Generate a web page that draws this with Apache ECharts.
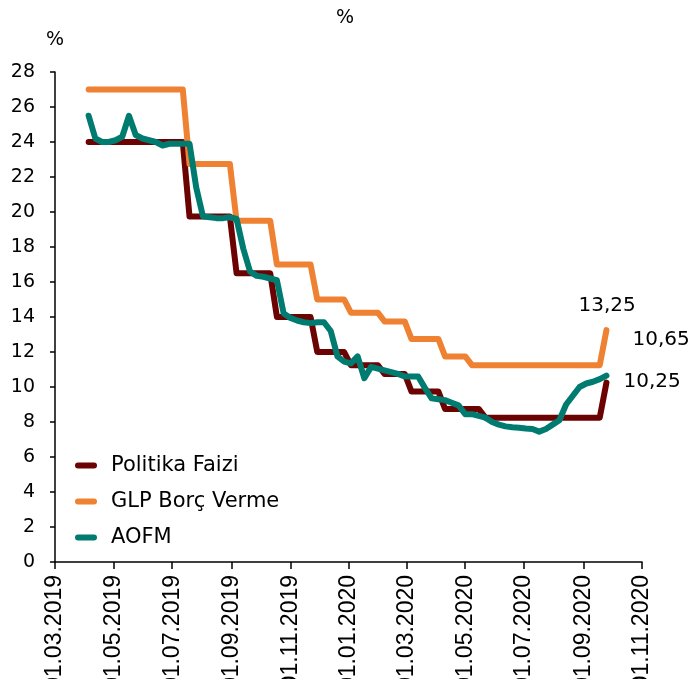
<!DOCTYPE html>
<html>
<head>
<meta charset="utf-8">
<script src="https://cdn.jsdelivr.net/npm/echarts@6/dist/echarts.min.js"></script>
<style>
  html, body { margin: 0; padding: 0; background: #fff; }
  #chart { width: 690px; height: 679px; }
</style>
</head>
<body>
<div id="chart"></div>
<script>
// haftalık gözlemler: 05.04.2019 - 25.09.2020
var startDate = [2019, 3, 5];
var weekCount = 78;

var politikaFaizi = [
  24, 24, 24, 24, 24, 24, 24, 24, 24, 24, 24, 24, 24, 24, 24,
  19.75, 19.75, 19.75, 19.75, 19.75, 19.75, 19.75,
  16.5, 16.5, 16.5, 16.5, 16.5, 16.5,
  14, 14, 14, 14, 14, 14,
  12, 12, 12, 12, 12,
  11.25, 11.25, 11.25, 11.25, 11.25,
  10.75, 10.75, 10.75, 10.75,
  9.75, 9.75, 9.75, 9.75, 9.75,
  8.75, 8.75, 8.75, 8.75, 8.75, 8.75,
  8.25, 8.25, 8.25, 8.25, 8.25, 8.25, 8.25, 8.25, 8.25,
  8.25, 8.25, 8.25, 8.25, 8.25, 8.25, 8.25, 8.25, 8.25,
  10.25
];

var glpBorcVerme = [
  27, 27, 27, 27, 27, 27, 27, 27, 27, 27, 27, 27, 27, 27, 27,
  22.75, 22.75, 22.75, 22.75, 22.75, 22.75, 22.75,
  19.5, 19.5, 19.5, 19.5, 19.5, 19.5,
  17, 17, 17, 17, 17, 17,
  15, 15, 15, 15, 15,
  14.25, 14.25, 14.25, 14.25, 14.25,
  13.75, 13.75, 13.75, 13.75,
  12.75, 12.75, 12.75, 12.75, 12.75,
  11.75, 11.75, 11.75, 11.75,
  11.25, 11.25, 11.25, 11.25, 11.25, 11.25, 11.25, 11.25, 11.25, 11.25,
  11.25, 11.25, 11.25, 11.25, 11.25, 11.25, 11.25, 11.25, 11.25, 11.25,
  13.25
];

var aofm = [
  25.5, 24.2, 24.0, 24.0, 24.1, 24.3, 25.5, 24.4, 24.2, 24.1,
  24.0, 23.8, 23.9, 23.9, 23.9, 23.9, 21.4, 19.75, 19.7, 19.65,
  19.65, 19.7, 19.6, 17.9, 16.6, 16.35, 16.3, 16.2, 16.1, 14.2,
  13.95, 13.8, 13.7, 13.65, 13.7, 13.7, 13.2, 11.75, 11.45, 11.35,
  11.75, 10.5, 11.15, 11.05, 10.95, 10.85, 10.75, 10.6, 10.6, 10.6,
  9.95, 9.35, 9.3, 9.25, 9.1, 8.95, 8.45, 8.45, 8.35, 8.25,
  8.0, 7.85, 7.75, 7.7, 7.67, 7.63, 7.6, 7.45, 7.6, 7.85,
  8.1, 9.0, 9.5, 10.0, 10.2, 10.3, 10.45, 10.65
];

// x ekseni etiketleri (iki ayda bir)
var tickDates = [
  [2019, 2, 1], [2019, 4, 1], [2019, 6, 1], [2019, 8, 1], [2019, 10, 1],
  [2020, 0, 1], [2020, 2, 1], [2020, 4, 1], [2020, 6, 1], [2020, 8, 1], [2020, 10, 1]
];

var names = ['Politika Faizi', 'GLP Borç Verme', 'AOFM'];
var colors = ['#6B0303', '#EF8132', '#007B70'];

function ts(d) { return new Date(d[0], d[1], d[2]).getTime(); }
function pad(n) { return n < 10 ? '0' + n : '' + n; }

var dates = [];
for (var i = 0; i < weekCount; i++) {
  dates.push(new Date(startDate[0], startDate[1], startDate[2] + 7 * i).getTime());
}
function pairs(vals) {
  return vals.map(function (v, i) { return [dates[i], v]; });
}
var tickTs = tickDates.map(ts);

var chartDom = document.getElementById('chart');
var myChart = echarts.init(chartDom);

function makeSeries(idx, vals, labelOffset) {
  return {
    name: names[idx],
    type: 'line',
    data: pairs(vals),
    symbol: 'none',
    lineStyle: { width: 6, color: colors[idx], cap: 'round', join: 'round' },
    itemStyle: { color: colors[idx] },
    endLabel: {
      show: true,
      distance: 0,
      offset: labelOffset,
      formatter: function (p) { return p.value[1].toFixed(2).replace('.', ','); },
      fontFamily: 'DejaVu Sans',
      fontSize: 20,
      color: '#000'
    }
  };
}

var option = {
  animation: false,
  backgroundColor: '#fff',
  title: {
    text: '%',
    left: 'center',
    top: 4,
    textStyle: { fontFamily: 'DejaVu Sans', fontSize: 19, fontWeight: 'normal', color: '#000' }
  },
  legend: {
    orient: 'vertical',
    left: 70,
    top: 450,
    itemGap: 15,
    itemWidth: 22,
    itemHeight: 6,
    icon: 'path://M3,0 H19 A3,3 0 0 1 19,6 H3 A3,3 0 0 1 3,0 Z',
    textStyle: { fontFamily: 'DejaVu Sans', fontSize: 21, color: '#000', padding: [0, 0, 0, 9] },
    data: names
  },
  grid: { left: 55, right: 48, top: 72, bottom: 117, containLabel: false, outerBoundsMode: 'none' },
  xAxis: {
    type: 'value',
    min: tickTs[0],
    max: tickTs[tickTs.length - 1],
    axisLine: { lineStyle: { color: '#000', width: 1.5 } },
    axisTick: { show: true, length: 7, customValues: tickTs, lineStyle: { color: '#000', width: 1.5 } },
    splitLine: { show: false },
    axisLabel: {
      customValues: tickTs,
      rotate: 90,
      margin: 13,
      fontFamily: 'Liberation Sans',
      fontSize: 23,
      color: '#000',
      formatter: function (v) {
        var d = new Date(v);
        return pad(d.getDate()) + '.' + pad(d.getMonth() + 1) + '.' + d.getFullYear();
      }
    }
  },
  yAxis: {
    type: 'value',
    min: 0,
    max: 28,
    interval: 2,
    name: '%',
    nameLocation: 'end',
    nameGap: 22,
    nameTextStyle: { fontFamily: 'DejaVu Sans', fontSize: 19, color: '#000' },
    axisLine: { show: true, lineStyle: { color: '#000', width: 1.5 } },
    axisTick: { show: true, length: 5, lineStyle: { color: '#000', width: 1.5 } },
    splitLine: { show: false },
    axisLabel: { margin: 20, fontFamily: 'DejaVu Sans', fontSize: 19, color: '#000' }
  },
  series: [
    makeSeries(0, politikaFaizi, [17, -1]),
    makeSeries(1, glpBorcVerme, [-28, -24]),
    makeSeries(2, aofm, [26, -36])
  ]
};

myChart.setOption(option);
</script>
</body>
</html>
